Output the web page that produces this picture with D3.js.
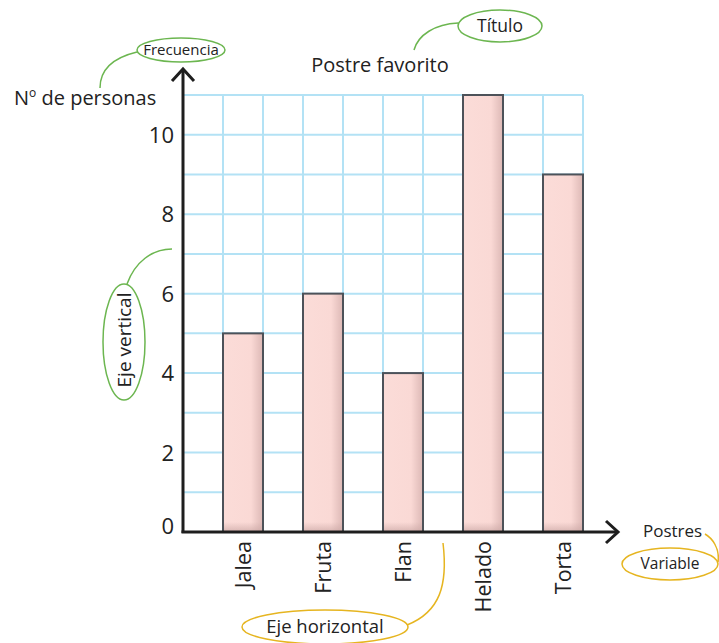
<!DOCTYPE html>
<html><head><meta charset="utf-8">
<script src="https://cdn.jsdelivr.net/npm/d3@7"></script>
<style>body{margin:0;background:#fff}svg{display:block}text{font-family:"Open Sans",Lato,sans-serif;fill:#222}</style>
</head><body>
<svg id="c" width="719" height="643"></svg>
<script>
const categories = ["Jalea","Fruta","Flan","Helado","Torta"];
const values = [5,6,4,11,9];
const yTicks = [0,2,4,6,8,10];
const yMax = 11;

const FONT = '"Open Sans",Lato,sans-serif';
const W = 400;
const svg = d3.select("#c");
const x = d3.scaleBand().domain(categories).range([183,623]).paddingInner(0.5).paddingOuter(0.5);
const y = d3.scaleLinear().domain([0,yMax]).range([532,95]);
const gridRight = x(categories[categories.length-1]) + x.bandwidth();
const colW = x.bandwidth();

const defs = svg.append("defs");
const g1 = defs.append("linearGradient").attr("id","barH").attr("x1","0").attr("x2","1").attr("y1","0").attr("y2","0");
g1.append("stop").attr("offset","0").attr("stop-color","#fbdcd8");
g1.append("stop").attr("offset","0.7").attr("stop-color","#fad9d5");
g1.append("stop").attr("offset","1").attr("stop-color","#dcb8b5");
const g2 = defs.append("linearGradient").attr("id","barV").attr("x1","0").attr("x2","0").attr("y1","0").attr("y2","1");
g2.append("stop").attr("offset","0").attr("stop-color","#c9a5a3").attr("stop-opacity",0);
g2.append("stop").attr("offset","1").attr("stop-color","#c9a5a3").attr("stop-opacity",0.7);

// grid
const grid = svg.append("g").attr("stroke","#b3e2f5").attr("stroke-width",2);
d3.range(1,yMax+1).forEach(v=>{
  grid.append("line").attr("x1",x.range()[0]).attr("x2",gridRight).attr("y1",y(v)).attr("y2",y(v));
});
const nCols = Math.round((gridRight - x.range()[0]) / colW);
d3.range(1,nCols+1).forEach(i=>{
  const xx = x.range()[0] + i*colW;
  grid.append("line").attr("x1",xx).attr("x2",xx).attr("y1",y(yMax)).attr("y2",y(0));
});

// bars
const bars = svg.append("g");
categories.forEach((c,i)=>{
  bars.append("rect").attr("x",x(c)).attr("y",y(values[i])).attr("width",x.bandwidth()).attr("height",y(0)-y(values[i]))
    .attr("fill","url(#barH)");
  bars.append("rect").attr("x",x(c)).attr("y",y(0)-10).attr("width",x.bandwidth()).attr("height",10)
    .attr("fill","url(#barV)");
  bars.append("rect").attr("x",x(c)).attr("y",y(values[i])).attr("width",x.bandwidth()).attr("height",y(0)-y(values[i]))
    .attr("fill","none").attr("stroke","#4d5259").attr("stroke-width",2);
});

// axes
const yAxis = d3.axisLeft(y).tickValues(yTicks).tickSize(0).tickPadding(9);
const ya = svg.append("g").attr("transform","translate(183,0)").call(yAxis);
ya.select(".domain").remove();
ya.selectAll("text").attr("font-size",22).attr("fill","#222").attr("font-family",FONT).attr("font-weight",W).attr("dy","0.35em");
ya.selectAll(".tick").filter(d=>d===0).select("text").attr("dy","0.05em");

const xAxis = d3.axisBottom(x).tickSize(0).tickPadding(0);
const xa = svg.append("g").attr("transform","translate(0,532)").call(xAxis);
xa.select(".domain").remove();
xa.selectAll("text").attr("font-size",21.5).attr("fill","#222").attr("font-family",FONT).attr("font-weight",W)
  .attr("transform","rotate(-90)").attr("text-anchor","end").attr("x",-9).attr("y",0).attr("dy","0.35em");

const ax = svg.append("g").attr("stroke","#1e1e1e").attr("stroke-width",3).attr("fill","none");
ax.append("line").attr("x1",183).attr("x2",183).attr("y1",533).attr("y2",69);
ax.append("path").attr("d","M172,81 L183,69 L194,81");
ax.append("line").attr("x1",181.5).attr("x2",618).attr("y1",532).attr("y2",532);
ax.append("path").attr("d","M606,521 L618,532 L606,543");

// texts
svg.append("text").attr("x",380).attr("y",72).attr("text-anchor","middle").attr("font-size",20).attr("font-weight",W).text("Postre favorito");
const yl = svg.append("text").attr("x",14).attr("y",105).attr("font-size",20).attr("font-weight",W);
yl.append("tspan").text("N");
yl.append("tspan").attr("font-size",12).attr("dy",-8).text("o");
yl.append("tspan").attr("dy",8).text(" de personas");
svg.append("text").attr("x",643).attr("y",537).attr("font-size",17).attr("font-weight",W).text("Postres");

// annotations
const green = "#6cb650", yellow = "#e6b520";
const ann = svg.append("g").attr("fill","none").attr("stroke-width",1.5);
ann.append("ellipse").attr("cx",181).attr("cy",50).attr("rx",44).attr("ry",12).attr("stroke",green);
ann.append("path").attr("d","M137,52 C112,58 100,70 100,88").attr("stroke",green);
svg.append("text").attr("x",181).attr("y",55).attr("text-anchor","middle").attr("font-size",15).attr("font-weight",W).text("Frecuencia");

ann.append("ellipse").attr("cx",500).attr("cy",26).attr("rx",42).attr("ry",16).attr("stroke",green);
ann.append("path").attr("d","M458,23 C435,24 418,35 414,50").attr("stroke",green);
svg.append("text").attr("x",500).attr("y",32).attr("text-anchor","middle").attr("font-size",17.5).attr("font-weight",W).text("Título");

ann.append("ellipse").attr("cx",124).attr("cy",342).attr("rx",21).attr("ry",58).attr("stroke",green);
ann.append("path").attr("d","M127,284 C135,262 152,249 172,249").attr("stroke",green);
svg.append("text").attr("transform","translate(131,340) rotate(-90)").attr("text-anchor","middle").attr("font-size",19).attr("font-weight",W).text("Eje vertical");

ann.append("ellipse").attr("cx",325).attr("cy",627).attr("rx",83).attr("ry",17).attr("stroke",yellow);
ann.append("path").attr("d","M407,625 C440,612 448,585 443,543").attr("stroke",yellow);
svg.append("text").attr("x",325).attr("y",633).attr("text-anchor","middle").attr("font-size",18.5).attr("font-weight",W).text("Eje horizontal");

ann.append("ellipse").attr("cx",670).attr("cy",564).attr("rx",48).attr("ry",16).attr("stroke",yellow);
ann.append("path").attr("d","M705,534 C712,538 720,548 718,562").attr("stroke",yellow);
svg.append("text").attr("x",670).attr("y",569).attr("text-anchor","middle").attr("font-size",15.5).attr("font-weight",W).text("Variable");
</script>
</body></html>
